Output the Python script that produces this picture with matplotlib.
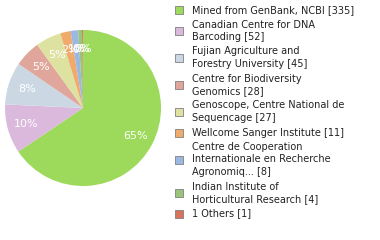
import matplotlib
matplotlib.use('Agg')
import matplotlib.pyplot as plt
from matplotlib.patches import Rectangle

labels = ['Mined from GenBank, NCBI [335]',
          'Canadian Centre for DNA\nBarcoding [52]',
          'Fujian Agriculture and\nForestry University [45]',
          'Centre for Biodiversity\nGenomics [28]',
          'Genoscope, Centre National de\nSequencage [27]',
          'Wellcome Sanger Institute [11]',
          'Centre de Cooperation\nInternationale en Recherche\nAgronomiq... [8]',
          'Indian Institute of\nHorticultural Research [4]',
          '1 Others [1]']
counts = [335, 52, 45, 28, 27, 11, 8, 4, 1]
colors = ['#9dd95a', '#dbb9dc', '#cbd8e4', '#e0a69b', '#dde2a0',
          '#f0aa6c', '#9ab8e0', '#99c47a', '#d9745c']

total = sum(counts)
pct_labels = ['%d%%' % int(c * 100 / total) for c in counts]

fig = plt.figure(figsize=(3.8, 2.4), dpi=100)
ax = fig.add_axes([5 / 380, 1 - 186 / 240, 156 / 380, 156 / 240])
wedges, texts = ax.pie(counts, colors=colors, startangle=90, counterclock=False,
                       labels=pct_labels, labeldistance=0.76,
                       textprops=dict(color='white', fontsize=8, ha='center', va='center'))
ax.set_aspect('equal')
ax.set_xlim(-1, 1)
ax.set_ylim(-1, 1)
ax.axis('off')

# legend drawn by hand: lines within an item 12.5px apart, 14.5px between items
y = 10.0
for lab, col in zip(labels, colors):
    lines = lab.split('\n')
    for i, ln in enumerate(lines):
        fig.text(192 / 380, 1 - (y + i * 12.5) / 240, ln, fontsize=7, color='#222222',
                 va='center', ha='left')
    ymid = y + (len(lines) - 1) * 12.5 / 2
    fig.patches.append(Rectangle((175 / 380, 1 - (ymid + 4) / 240), 8 / 380, 8 / 240,
                                 transform=fig.transFigure, facecolor=col,
                                 edgecolor='#808080', linewidth=0.6))
    y += (len(lines) - 1) * 12.5 + 14.5

fig.savefig('out.png', dpi=100)
